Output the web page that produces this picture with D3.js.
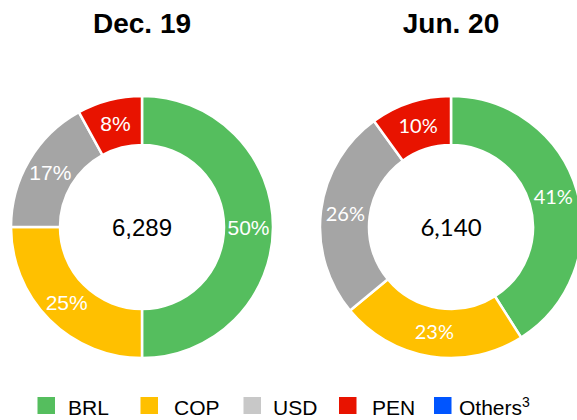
<!DOCTYPE html>
<html lang="en">
<head>
<meta charset="UTF-8">
<title>Currency mix donuts</title>
<script src="https://d3js.org/d3.v7.min.js"></script>
<style>
  body { margin: 0; background: #fff; }
  svg { display: block; }
</style>
</head>
<body>
<svg width="577" height="420"></svg>
<script>
  // data
  const currencies = ["BRL", "COP", "USD", "PEN", "Others"];
  const periods = ["Dec. 19", "Jun. 20"];
  const totals = ["6,289", "6,140"];
  const dec19 = [50, 25, 17, 8, 0];
  const jun20 = [41, 23, 26, 10, 0];

  const sliceColors = ["#55BE5E", "#FFC000", "#A5A5A5", "#E81300", "#0055FF"];
  const legendColors = ["#55BE5E", "#FFC000", "#C8C8C8", "#E81300", "#0055FF"];

  const svg = d3.select("svg");

  const donuts = [
    { title: periods[0], total: totals[0], values: dec19, cx: 142, font: "Liberation Sans, Arial, sans-serif", pctSize: "21px" },
    { title: periods[1], total: totals[1], values: jun20, cx: 451, font: "Lato, sans-serif", pctSize: "20px" }
  ];
  const cy = 227, outerR = 131, innerR = 82;

  const color = d3.scaleOrdinal().domain(currencies).range(sliceColors);
  const pie = d3.pie().sort(null).value(d => d.v);
  const arc = d3.arc().innerRadius(innerR).outerRadius(outerR);

  donuts.forEach(dn => {
    const g = svg.append("g").attr("transform", `translate(${dn.cx},${cy})`);
    const arcs = pie(currencies.map((c, i) => ({ c, v: dn.values[i] })))
      .filter(a => a.data.v > 0);

    g.selectAll("path")
      .data(arcs)
      .join("path")
      .attr("d", arc)
      .attr("fill", d => color(d.data.c))
      .attr("stroke", "#fff")
      .attr("stroke-width", 2.5);

    g.selectAll("text.pct")
      .data(arcs)
      .join("text")
      .attr("class", "pct")
      .attr("transform", d => `translate(${arc.centroid(d)})`)
      .attr("text-anchor", "middle")
      .attr("dy", "0.36em")
      .attr("fill", "#fff")
      .style("font-family", dn.font)
      .style("font-size", dn.pctSize)
      .text(d => d.data.v + "%");

    g.append("text")
      .attr("text-anchor", "middle")
      .attr("dy", "0.36em")
      .attr("fill", "#000")
      .style("font-family", dn.font)
      .style("font-size", "24px")
      .text(dn.total);

    svg.append("text")
      .attr("x", dn.cx)
      .attr("y", 33)
      .attr("text-anchor", "middle")
      .style("font-family", "Liberation Sans, Arial, sans-serif")
      .style("font-weight", "bold")
      .style("font-size", "28px")
      .text(dn.title);
  });

  // legend
  const legendSlots = [37.5, 140.5, 243.5, 339, 434];
  const textGap = [30.5, 33.5, 29.5, 33, 25];
  const legend = svg.append("g");
  currencies.forEach((c, i) => {
    const x = legendSlots[i];
    legend.append("rect")
      .attr("x", x).attr("y", 397)
      .attr("width", 17.5).attr("height", 17)
      .attr("fill", legendColors[i]);
    const t = legend.append("text")
      .attr("x", x + textGap[i])
      .attr("y", 415)
      .style("font-family", "Liberation Sans, Arial, sans-serif")
      .style("font-size", "21px")
      .attr("fill", "#000");
    if (c === "Others") {
      t.text("Others");
      t.append("tspan").attr("dy", -8).style("font-size", "14px").text("3");
    } else {
      t.text(c);
    }
  });
</script>
</body>
</html>
